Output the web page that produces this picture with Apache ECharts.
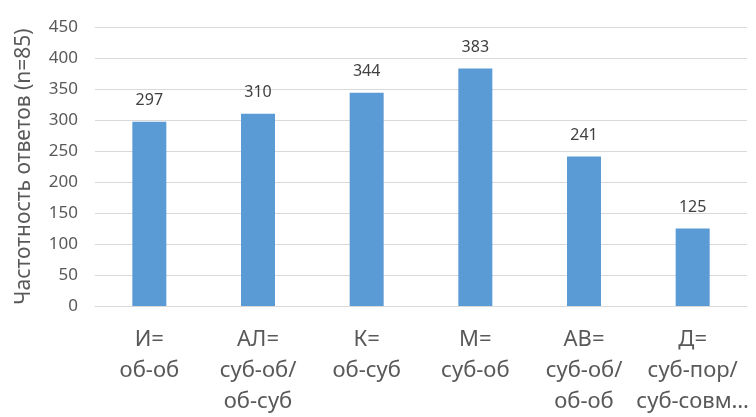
<!DOCTYPE html>
<html><head><meta charset="utf-8">
<script src="https://cdn.jsdelivr.net/npm/echarts@6/dist/echarts.min.js"></script>
<style>html,body{margin:0;padding:0;background:#fff}#c{width:756px;height:417px}</style>
</head><body><div id="c"></div>
<script>
var categories = ["И=\nоб-об", "АЛ=\nсуб-об/\nоб-суб", "К=\nоб-суб", "М=\nсуб-об", "АВ=\nсуб-об/\nоб-об", "Д=\nсуб-пор/\nсуб-совм…"];
var values = [297, 310, 344, 383, 241, 125];
var yTitle = "Частотность ответов (n=85)";
var FONT = "Noto Sans";
var chart = echarts.init(document.getElementById('c'));
chart.setOption({
  animation: false,
  textStyle: {fontFamily: FONT},
  grid: {left: 95, right: 9, top: 27, bottom: 111},
  xAxis: {
    type: 'category', data: categories,
    axisLine: {lineStyle: {color: '#d9d9d9', width: 1}},
    axisTick: {show: false},
    axisLabel: {color: '#595959', fontSize: 22, lineHeight: 31, margin: 18, fontFamily: FONT, interval: 0}
  },
  yAxis: {
    type: 'value', min: 0, max: 450, interval: 50,
    name: yTitle, nameLocation: 'middle', nameGap: 60, nameRotate: 90,
    nameTextStyle: {color: '#595959', fontSize: 21, fontFamily: FONT},
    axisLine: {show: false}, axisTick: {show: false},
    axisLabel: {color: '#595959', fontSize: 17, margin: 17, fontFamily: FONT},
    splitLine: {lineStyle: {color: '#d9d9d9', width: 1}}
  },
  series: [{
    type: 'bar', data: values, barWidth: 34,
    itemStyle: {color: '#5b9bd5'},
    label: {show: true, position: 'top', distance: 13, color: '#404040', fontSize: 16, fontFamily: FONT}
  }]
});
</script></body></html>
